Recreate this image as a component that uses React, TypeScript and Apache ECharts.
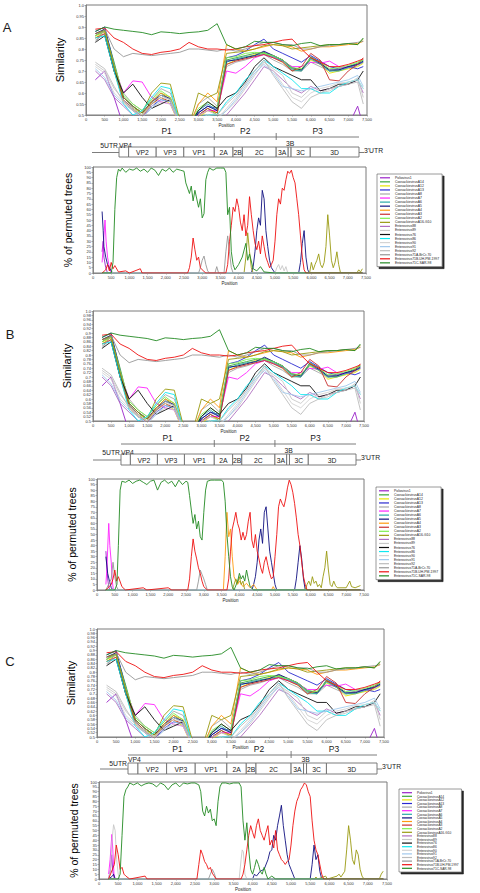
import React, { useEffect, useRef } from 'react';
import * as echarts from 'echarts';

// ---------- DATA ----------
const POS = [250, 500, 750, 1000, 1250, 1500, 1750, 2000, 2250, 2500, 2750, 3000, 3250, 3500, 3750, 4000, 4250, 4500, 4750, 5000, 5250, 5500, 5750, 6000, 6250, 6500, 6750, 7000, 7250, 7400];

const NAMES = [
  'Poliovirus1', 'CoxsackievirusA14', 'CoxsackievirusA12', 'CoxsackievirusA13', 'CoxsackievirusA8',
  'CoxsackievirusA7', 'CoxsackievirusA6', 'CoxsackievirusA5', 'CoxsackievirusA4', 'CoxsackievirusA3',
  'CoxsackievirusA2', 'CoxsackievirusA16-G10', 'Enterovirus88', 'Enterovirus89', 'Enterovirus76',
  'Enterovirus86', 'Enterovirus90', 'Enterovirus91', 'Enterovirus92', 'Enterovirus71A-BrCr-70',
  'Enterovirus71B-UH-PM-1997', 'Enterovirus71C-SAR-98',
];

const COLORS = [
  '#9a22c8', '#3aa63a', '#e6e600', '#2a2ad0', '#a8a8a8',
  '#ff22ff', '#2aa8a8', '#101080', '#ff9a10', '#c83030',
  '#7cf050', '#9a9a10', '#b070c0', '#c8c8c8', '#111111',
  '#10e8f0', '#d4d4d4', '#a0c8ec', '#bcbcbc', '#979797',
  '#ee1111', '#238a23',
];

const SIM_POLIO = [0.66, 0.70, 0.58, 0.45, 0.45, 0.45, 0.45, 0.45, 0.45, 0.45, 0.45, 0.45, 0.45, 0.45, 0.45, 0.45, 0.45, 0.45, 0.45, 0.45, 0.45, 0.45, 0.45, 0.45, 0.45, 0.45, 0.45, 0.45, 0.54, 0.45];
const SIM_CVA14 = [0.86, 0.89, 0.74, 0.58, 0.54, 0.50, 0.56, 0.60, 0.57, 0.46, 0.44, 0.50, 0.53, 0.50, 0.75, 0.76, 0.77, 0.78, 0.785, 0.77, 0.75, 0.71, 0.70, 0.765, 0.74, 0.70, 0.705, 0.72, 0.735, 0.75];
const SIM_CVA12 = [0.85, 0.88, 0.70, 0.56, 0.53, 0.51, 0.55, 0.58, 0.55, 0.45, 0.44, 0.49, 0.52, 0.51, 0.73, 0.75, 0.76, 0.775, 0.78, 0.76, 0.74, 0.70, 0.71, 0.75, 0.73, 0.69, 0.70, 0.71, 0.72, 0.735];
const SIM_CVA13 = [0.88, 0.90, 0.73, 0.57, 0.52, 0.49, 0.54, 0.57, 0.56, 0.46, 0.44, 0.51, 0.54, 0.53, 0.76, 0.77, 0.79, 0.82, 0.845, 0.80, 0.78, 0.76, 0.74, 0.77, 0.745, 0.72, 0.71, 0.72, 0.71, 0.72];
const SIM_CVA8 = [0.84, 0.87, 0.70, 0.60, 0.55, 0.52, 0.57, 0.62, 0.60, 0.48, 0.45, 0.55, 0.58, 0.54, 0.72, 0.74, 0.75, 0.765, 0.775, 0.75, 0.73, 0.70, 0.70, 0.74, 0.72, 0.70, 0.71, 0.715, 0.725, 0.74];
const SIM_CVA7 = [0.87, 0.88, 0.72, 0.60, 0.655, 0.65, 0.58, 0.56, 0.55, 0.46, 0.44, 0.50, 0.52, 0.52, 0.70, 0.69, 0.72, 0.76, 0.775, 0.76, 0.745, 0.72, 0.72, 0.74, 0.735, 0.745, 0.72, 0.715, 0.73, 0.74];
const SIM_CVA6 = [0.86, 0.885, 0.71, 0.57, 0.53, 0.50, 0.55, 0.59, 0.57, 0.46, 0.44, 0.52, 0.55, 0.52, 0.74, 0.755, 0.765, 0.77, 0.78, 0.765, 0.745, 0.705, 0.70, 0.755, 0.73, 0.70, 0.70, 0.715, 0.73, 0.74];
const SIM_CVA5 = [0.87, 0.89, 0.72, 0.58, 0.54, 0.51, 0.56, 0.59, 0.575, 0.47, 0.44, 0.51, 0.54, 0.52, 0.745, 0.75, 0.76, 0.77, 0.79, 0.77, 0.75, 0.715, 0.705, 0.76, 0.735, 0.705, 0.705, 0.72, 0.73, 0.745];
const SIM_CVA4 = [0.86, 0.88, 0.71, 0.56, 0.52, 0.50, 0.56, 0.60, 0.58, 0.47, 0.45, 0.55, 0.60, 0.56, 0.82, 0.80, 0.79, 0.80, 0.81, 0.82, 0.815, 0.81, 0.79, 0.80, 0.81, 0.81, 0.815, 0.82, 0.825, 0.835];
const SIM_CVA3 = [0.85, 0.87, 0.70, 0.57, 0.53, 0.49, 0.55, 0.58, 0.56, 0.46, 0.44, 0.50, 0.53, 0.51, 0.73, 0.745, 0.755, 0.765, 0.775, 0.76, 0.74, 0.70, 0.72, 0.78, 0.75, 0.66, 0.655, 0.70, 0.73, 0.76];
const SIM_CVA2 = [0.86, 0.88, 0.73, 0.59, 0.55, 0.52, 0.57, 0.61, 0.58, 0.47, 0.45, 0.53, 0.56, 0.53, 0.76, 0.765, 0.78, 0.785, 0.78, 0.77, 0.75, 0.715, 0.71, 0.76, 0.74, 0.71, 0.715, 0.725, 0.74, 0.75];
const SIM_CVA16 = [0.87, 0.885, 0.72, 0.58, 0.54, 0.51, 0.60, 0.645, 0.64, 0.48, 0.45, 0.60, 0.58, 0.60, 0.78, 0.785, 0.79, 0.80, 0.815, 0.82, 0.815, 0.80, 0.805, 0.81, 0.815, 0.82, 0.82, 0.825, 0.82, 0.845];
const SIM_EV88 = [0.70, 0.66, 0.58, 0.54, 0.50, 0.47, 0.45, 0.45, 0.45, 0.45, 0.45, 0.45, 0.45, 0.46, 0.50, 0.55, 0.60, 0.66, 0.72, 0.70, 0.66, 0.62, 0.60, 0.63, 0.61, 0.62, 0.63, 0.64, 0.66, 0.60];
const SIM_EV89 = [0.73, 0.70, 0.62, 0.57, 0.52, 0.49, 0.53, 0.56, 0.55, 0.46, 0.44, 0.48, 0.50, 0.49, 0.52, 0.56, 0.62, 0.68, 0.74, 0.71, 0.68, 0.60, 0.58, 0.62, 0.60, 0.61, 0.63, 0.64, 0.67, 0.58];
const SIM_EV76 = [0.83, 0.86, 0.70, 0.60, 0.64, 0.58, 0.53, 0.55, 0.57, 0.46, 0.45, 0.52, 0.56, 0.53, 0.58, 0.60, 0.65, 0.72, 0.76, 0.72, 0.70, 0.68, 0.66, 0.66, 0.61, 0.62, 0.64, 0.64, 0.66, 0.70];
const SIM_EV86 = [0.85, 0.86, 0.70, 0.55, 0.50, 0.52, 0.58, 0.63, 0.62, 0.46, 0.44, 0.49, 0.50, 0.50, 0.56, 0.60, 0.66, 0.70, 0.75, 0.72, 0.69, 0.66, 0.62, 0.62, 0.60, 0.60, 0.63, 0.65, 0.66, 0.62];
const SIM_EV90 = [0.72, 0.69, 0.60, 0.56, 0.53, 0.50, 0.54, 0.58, 0.57, 0.46, 0.44, 0.48, 0.50, 0.48, 0.53, 0.58, 0.64, 0.70, 0.74, 0.70, 0.64, 0.58, 0.56, 0.60, 0.62, 0.63, 0.645, 0.65, 0.66, 0.62];
const SIM_EV91 = [0.71, 0.67, 0.59, 0.55, 0.52, 0.49, 0.53, 0.57, 0.56, 0.46, 0.44, 0.48, 0.49, 0.48, 0.52, 0.57, 0.63, 0.69, 0.73, 0.69, 0.63, 0.62, 0.61, 0.62, 0.63, 0.64, 0.65, 0.66, 0.68, 0.63];
const SIM_EV92 = [0.74, 0.71, 0.63, 0.56, 0.52, 0.50, 0.55, 0.59, 0.57, 0.47, 0.45, 0.50, 0.52, 0.50, 0.55, 0.59, 0.64, 0.70, 0.75, 0.68, 0.62, 0.56, 0.53, 0.58, 0.60, 0.62, 0.63, 0.64, 0.65, 0.55];
const SIM_EV71A = [0.83, 0.89, 0.80, 0.765, 0.78, 0.775, 0.77, 0.775, 0.78, 0.785, 0.80, 0.80, 0.795, 0.79, 0.80, 0.79, 0.80, 0.815, 0.83, 0.83, 0.82, 0.82, 0.80, 0.80, 0.81, 0.815, 0.82, 0.825, 0.83, 0.835];
const SIM_EV71B = [0.89, 0.895, 0.85, 0.83, 0.80, 0.78, 0.775, 0.785, 0.79, 0.80, 0.83, 0.81, 0.80, 0.80, 0.795, 0.80, 0.81, 0.815, 0.82, 0.83, 0.84, 0.845, 0.80, 0.76, 0.74, 0.72, 0.72, 0.73, 0.745, 0.755];
const SIM_EV71C = [0.88, 0.90, 0.89, 0.885, 0.88, 0.875, 0.865, 0.878, 0.875, 0.87, 0.875, 0.878, 0.885, 0.915, 0.82, 0.80, 0.81, 0.835, 0.83, 0.83, 0.82, 0.815, 0.825, 0.83, 0.815, 0.82, 0.82, 0.825, 0.82, 0.85];

const SIM = [SIM_POLIO, SIM_CVA14, SIM_CVA12, SIM_CVA13, SIM_CVA8, SIM_CVA7, SIM_CVA6, SIM_CVA5, SIM_CVA4, SIM_CVA3, SIM_CVA2, SIM_CVA16, SIM_EV88, SIM_EV89, SIM_EV76, SIM_EV86, SIM_EV90, SIM_EV91, SIM_EV92, SIM_EV71A, SIM_EV71B, SIM_EV71C];

const BOOT_ZERO = [[250, 0], [7400, 0]];

// Panel A bootscan
const A_GREEN = [[250, 0], [500, 0], [550, 10], [600, 60], [650, 90], [700, 98], [750, 96], [800, 99], [900, 95], [1000, 98], [1100, 97], [1200, 99], [1300, 96], [1400, 98], [1500, 95], [1600, 99], [1700, 97], [1800, 92], [1900, 98], [2000, 96], [2100, 99], [2200, 95], [2300, 98], [2400, 97], [2500, 96], [2550, 85], [2650, 75], [2700, 82], [2750, 68], [2800, 78], [2900, 62], [2950, 70], [3000, 52], [3050, 56], [3100, 88], [3150, 95], [3200, 99], [3300, 97], [3400, 99], [3500, 99], [3600, 99], [3650, 95], [3700, 55], [3750, 62], [3800, 20], [3850, 8], [3900, 3], [4000, 8], [4100, 15], [4200, 28], [4250, 12], [4300, 18], [4400, 4], [4500, 2], [4600, 6], [4700, 1], [5000, 0], [7400, 0]];
const A_RED = [[250, 0], [350, 3], [400, 8], [450, 2], [500, 10], [550, 4], [600, 7], [700, 1], [900, 2], [1000, 0], [1300, 4], [1350, 0], [2600, 0], [2650, 5], [2700, 15], [2750, 33], [2800, 22], [2850, 12], [2900, 15], [2950, 5], [3000, 3], [3100, 0], [3650, 0], [3700, 8], [3750, 30], [3800, 45], [3850, 62], [3900, 58], [3950, 70], [4000, 62], [4050, 48], [4100, 40], [4150, 55], [4200, 35], [4250, 45], [4300, 72], [4350, 55], [4400, 40], [4450, 28], [4500, 22], [4550, 30], [4600, 18], [4650, 35], [4700, 25], [4750, 15], [4800, 10], [4850, 5], [4900, 8], [4950, 12], [5000, 30], [5050, 55], [5100, 70], [5150, 65], [5200, 80], [5250, 78], [5300, 88], [5350, 96], [5400, 94], [5450, 97], [5500, 90], [5550, 85], [5600, 70], [5650, 55], [5700, 35], [5750, 15], [5800, 3], [5850, 0], [7400, 0]];
const A_NAVY = [[250, 58], [280, 40], [300, 25], [350, 15], [400, 8], [450, 5], [500, 2], [550, 0], [4350, 0], [4400, 6], [4450, 20], [4500, 40], [4550, 52], [4600, 45], [4650, 78], [4700, 70], [4750, 40], [4800, 25], [4850, 12], [4900, 5], [5000, 0], [5650, 0], [5700, 10], [5750, 28], [5800, 40], [5850, 15], [5900, 3], [5950, 0], [7400, 0]];
const A_MAGENTA = [[250, 10], [280, 25], [300, 35], [330, 50], [360, 30], [400, 15], [450, 5], [500, 0], [7400, 0]];
const A_OLIVE = [[250, 0], [4150, 0], [4200, 15], [4250, 38], [4300, 20], [4350, 5], [4400, 0], [5950, 0], [6000, 10], [6050, 3], [6100, 8], [6150, 12], [6200, 18], [6250, 8], [6300, 5], [6350, 10], [6400, 25], [6450, 55], [6500, 35], [6550, 12], [6600, 5], [6650, 10], [6700, 20], [6750, 8], [6800, 0], [7250, 0], [7300, 3], [7350, 1], [7400, 4]];
const A_GREY = [[250, 0], [2900, 0], [2950, 5], [3000, 12], [3050, 16], [3100, 8], [3150, 2], [3200, 0], [3350, 0], [3400, 6], [3450, 0], [3600, 0], [3650, 20], [3700, 35], [3750, 20], [3800, 5], [3850, 0], [7400, 0]];
const A_POLIO = [[250, 20], [280, 30], [300, 15], [350, 5], [400, 0], [7400, 0]];
const A_LGREY = [[250, 0], [5000, 0], [5050, 5], [5100, 8], [5150, 3], [5200, 7], [5250, 2], [5300, 6], [5350, 0], [7400, 0]];

// Panel B bootscan
const B_GREEN = [[250, 0], [500, 0], [560, 5], [600, 40], [650, 90], [700, 98], [800, 97], [900, 99], [1000, 96], [1100, 98], [1200, 99], [1300, 97], [1400, 95], [1500, 98], [1600, 99], [1700, 90], [1800, 97], [1900, 99], [2000, 96], [2100, 98], [2200, 93], [2300, 99], [2400, 95], [2500, 98], [2550, 97], [2600, 85], [2650, 72], [2700, 60], [2750, 68], [2800, 55], [2850, 62], [2900, 48], [2950, 45], [3000, 70], [3050, 90], [3100, 98], [3200, 99], [3300, 99], [3400, 99], [3500, 99], [3550, 97], [3600, 80], [3650, 50], [3700, 30], [3750, 12], [3800, 3], [3850, 0], [3950, 8], [4000, 15], [4050, 10], [4100, 13], [4150, 8], [4200, 18], [4250, 10], [4300, 3], [4400, 0], [7400, 0]];
const B_RED = [[250, 0], [400, 5], [450, 10], [500, 18], [550, 8], [600, 12], [700, 3], [800, 0], [1300, 2], [1400, 0], [2000, 2], [2100, 0], [2550, 0], [2600, 10], [2650, 30], [2700, 46], [2750, 35], [2800, 28], [2850, 20], [2900, 15], [2950, 8], [3000, 3], [3100, 0], [3650, 0], [3700, 10], [3750, 35], [3800, 55], [3850, 62], [3900, 70], [3950, 60], [4000, 55], [4050, 45], [4100, 52], [4150, 45], [4200, 50], [4250, 62], [4300, 70], [4350, 45], [4400, 38], [4450, 50], [4500, 35], [4550, 28], [4600, 20], [4650, 15], [4700, 25], [4750, 30], [4800, 22], [4850, 15], [4900, 10], [4950, 12], [5000, 30], [5050, 50], [5100, 75], [5150, 82], [5200, 78], [5250, 75], [5300, 82], [5350, 92], [5400, 99], [5450, 95], [5500, 88], [5550, 78], [5600, 65], [5650, 50], [5700, 40], [5750, 25], [5800, 12], [5850, 5], [5900, 0], [7400, 0]];
const B_NAVY = [[250, 30], [300, 15], [350, 8], [400, 2], [450, 0], [4350, 0], [4400, 5], [4450, 12], [4500, 25], [4550, 45], [4600, 55], [4650, 42], [4700, 70], [4750, 75], [4800, 55], [4850, 35], [4900, 25], [4950, 15], [5000, 5], [5050, 0], [5550, 0], [5600, 10], [5650, 25], [5700, 40], [5750, 28], [5800, 10], [5850, 0], [7400, 0]];
const B_MAGENTA = [[250, 5], [280, 20], [310, 45], [330, 60], [360, 40], [400, 25], [430, 8], [460, 0], [7400, 0]];
const B_POLIO = [[250, 35], [270, 25], [300, 10], [330, 3], [360, 0], [7400, 0]];
const B_ORANGE = [[250, 0], [3550, 0], [3600, 30], [3650, 70], [3700, 48], [3750, 55], [3800, 30], [3850, 12], [3900, 8], [3950, 5], [4000, 8], [4100, 3], [4200, 6], [4300, 2], [4400, 5], [4500, 0], [4900, 0], [4950, 3], [5000, 0], [7400, 0]];
const B_OLIVE = [[250, 0], [3800, 0], [3850, 5], [3900, 10], [3950, 6], [4000, 12], [4050, 5], [4100, 8], [4150, 0], [5850, 0], [5900, 5], [5950, 8], [6000, 4], [6050, 12], [6100, 6], [6150, 8], [6200, 3], [6250, 5], [6300, 2], [6350, 12], [6400, 20], [6450, 35], [6500, 18], [6550, 5], [6600, 3], [6650, 8], [6700, 4], [6750, 2], [7000, 2], [7050, 5], [7100, 8], [7150, 3], [7250, 2], [7400, 4]];
const B_GREY = [[250, 0], [400, 10], [450, 25], [500, 12], [550, 3], [600, 0], [2800, 0], [2850, 8], [2900, 18], [2950, 14], [3000, 10], [3050, 5], [3100, 0], [7400, 0]];

// Panel C bootscan
const C_GREEN = [[250, 0], [500, 0], [550, 5], [600, 45], [650, 85], [700, 92], [750, 95], [800, 99], [900, 97], [1000, 99], [1100, 96], [1200, 98], [1300, 99], [1400, 98], [1500, 95], [1600, 99], [1700, 97], [1800, 92], [1900, 97], [2000, 99], [2100, 95], [2200, 99], [2300, 98], [2400, 99], [2500, 99], [2600, 97], [2650, 90], [2700, 70], [2750, 65], [2800, 75], [2850, 68], [2900, 72], [2950, 60], [3000, 62], [3050, 55], [3100, 80], [3150, 95], [3200, 99], [3300, 99], [3400, 98], [3500, 99], [3600, 99], [3650, 99], [3700, 95], [3750, 60], [3800, 40], [3850, 58], [3900, 30], [3950, 10], [4000, 5], [4050, 12], [4100, 20], [4150, 15], [4200, 8], [4250, 5], [4300, 12], [4350, 5], [4400, 0], [4500, 3], [4600, 0], [7400, 0]];
const C_RED = [[250, 0], [400, 15], [450, 35], [500, 25], [550, 10], [600, 12], [650, 5], [700, 3], [800, 0], [1200, 3], [1250, 0], [2550, 0], [2600, 15], [2650, 30], [2700, 25], [2750, 18], [2800, 15], [2850, 10], [2900, 12], [2950, 6], [3000, 3], [3050, 0], [3700, 0], [3750, 5], [3800, 15], [3850, 30], [3900, 45], [3950, 55], [4000, 48], [4050, 42], [4100, 55], [4150, 62], [4200, 50], [4250, 45], [4300, 40], [4350, 48], [4400, 55], [4450, 35], [4500, 40], [4550, 32], [4600, 50], [4650, 30], [4700, 25], [4750, 20], [4800, 18], [4850, 15], [4900, 18], [4950, 20], [5000, 35], [5050, 55], [5100, 70], [5150, 80], [5200, 85], [5250, 92], [5300, 95], [5350, 99], [5400, 97], [5450, 90], [5500, 85], [5550, 60], [5600, 40], [5650, 30], [5700, 25], [5750, 15], [5800, 5], [5850, 0], [7400, 0]];
const C_NAVY = [[250, 0], [350, 3], [380, 5], [420, 0], [4000, 0], [4050, 5], [4100, 3], [4200, 8], [4300, 10], [4400, 20], [4450, 28], [4500, 30], [4550, 45], [4600, 40], [4650, 55], [4700, 65], [4750, 76], [4800, 55], [4850, 40], [4900, 25], [4950, 15], [5000, 10], [5050, 5], [5100, 0], [5500, 0], [5550, 15], [5600, 35], [5650, 20], [5700, 25], [5750, 8], [5800, 0], [7400, 0]];
const C_MAGENTA = [[250, 5], [290, 20], [335, 46], [360, 30], [390, 5], [420, 0], [7400, 0]];
const C_LGREY = [[250, 0], [300, 10], [340, 40], [380, 56], [420, 50], [460, 20], [500, 5], [540, 0], [3650, 0], [3700, 20], [3730, 30], [3760, 28], [3800, 5], [3850, 0], [7400, 0]];
const C_OLIVE = [[250, 0], [5600, 0], [5650, 2], [5700, 0], [5900, 3], [5950, 0], [6200, 3], [6250, 5], [6300, 2], [6400, 8], [6450, 30], [6500, 55], [6550, 40], [6600, 20], [6650, 15], [6700, 30], [6750, 25], [6800, 10], [6850, 3], [6900, 0], [7300, 0], [7350, 5], [7400, 8]];
const C_POLIO = [[250, 0], [300, 10], [330, 25], [360, 8], [400, 0], [7400, 0]];
const C_GREY = [[250, 0], [2850, 0], [2900, 5], [2950, 10], [3000, 6], [3050, 0], [7400, 0]];

// series index -> data
const BOOT_A: Record<number, number[][]> = { 0: A_POLIO, 5: A_MAGENTA, 7: A_NAVY, 11: A_OLIVE, 13: A_LGREY, 19: A_GREY, 20: A_RED, 21: A_GREEN };
const BOOT_B: Record<number, number[][]> = { 0: B_POLIO, 5: B_MAGENTA, 7: B_NAVY, 8: B_ORANGE, 11: B_OLIVE, 19: B_GREY, 20: B_RED, 21: B_GREEN };
const BOOT_C: Record<number, number[][]> = { 0: C_POLIO, 5: C_MAGENTA, 7: C_NAVY, 11: C_OLIVE, 13: C_LGREY, 19: C_GREY, 20: C_RED, 21: C_GREEN };

// Genome map annotation (fractions of the map width)
const GENE_NAMES = ['VP4', 'VP2', 'VP3', 'VP1', '2A', '2B', '2C', '3A', '3B', '3C', '3D'];
const GENE_EDGES = [0, 0.04, 0.155, 0.27, 0.397, 0.475, 0.514, 0.655, 0.705, 0.717, 0.797, 1];
const P_NAMES = ['P1', 'P2', 'P3'];
const P_EDGES = [0, 0.397, 0.655, 1];

// ---------- LAYOUT ----------
const FONT = 'Liberation Sans, Arial, sans-serif';

const PANELS = [
  {
    letter: 'A', lx: 7, ly: 27,
    sim: { left: 86, top: 5, width: 281, height: 110, interval: 0.05, nameGap: 20 },
    boot: { left: 93, top: 167, width: 273, height: 106, nameGap: 14 },
    legend: { left: 377, top: 174, gap: 0.45, fs: 3.4 },
    genome: { x0: 119, x1: 359, boxTop: 147, boxH: 10, pLineY: 137, leftX: 92, vp4Dy: -1.5 },
    boot_data: BOOT_A,
  },
  {
    letter: 'B', lx: 10, ly: 334,
    sim: { left: 93, top: 311, width: 271, height: 110, interval: 0.02, nameGap: 15 },
    boot: { left: 97, top: 479, width: 267, height: 111, nameGap: 15 },
    legend: { left: 376, top: 487, gap: 0.45, fs: 3.4 },
    genome: { x0: 121, x1: 356, boxTop: 454, boxH: 11, pLineY: 444, leftX: 93, vp4Dy: -1.5 },
    boot_data: BOOT_B,
  },
  {
    letter: 'C', lx: 10, ly: 661,
    sim: { left: 97, top: 629, width: 287, height: 108, interval: 0.02, nameGap: 18 },
    boot: { left: 99, top: 782, width: 288, height: 101, nameGap: 16 },
    legend: { left: 399, top: 789, gap: 0.2, fs: 3.2 },
    genome: { x0: 128, x1: 377, boxTop: 763, boxH: 11, pLineY: 755, leftX: 100, vp4Dy: -4, utrDy: 0 },
    boot_data: BOOT_C,
  },
];

const fmtPos = (v: number) => String(v).replace(/\B(?=(\d{3})+(?!\d))/g, ',');
const fmtSim = (v: number) => (v === 1 ? '1.0' : String(+v.toFixed(2)));

function lineEl(x1: number, y1: number, x2: number, y2: number, color = '#6e6e6e', w = 0.9) {
  return { type: 'line', shape: { x1, y1, x2, y2 }, style: { stroke: color, lineWidth: w }, silent: true };
}
function textEl(text: string, x: number, y: number, fs: number, align = 'center', valign = 'middle') {
  return {
    type: 'text', x, y, silent: true,
    style: { text, fontSize: fs, fontFamily: FONT, fill: '#1a1a1a', textAlign: align, textVerticalAlign: valign },
  };
}

function genome(g: any) {
  const els: any[] = [];
  const W = g.x1 - g.x0;
  const X = (f: number) => g.x0 + f * W;
  const midY = g.boxTop + g.boxH / 2 + 0.5;
  // polyprotein line
  els.push(lineEl(g.x0, g.pLineY, g.x1, g.pLineY));
  for (let i = 1; i < P_EDGES.length - 1; i++) els.push(lineEl(X(P_EDGES[i]), g.pLineY - 4, X(P_EDGES[i]), g.pLineY + 3));
  P_NAMES.forEach((n, i) => els.push(textEl(n, (X(P_EDGES[i]) + X(P_EDGES[i + 1])) / 2, g.pLineY - 6, 8.5)));
  // UTR lines
  els.push(lineEl(g.leftX, midY, g.x0, midY));
  els.push(lineEl(g.x1, midY, g.x1 + 5, midY));
  // segments
  GENE_NAMES.forEach((n, i) => {
    const a = X(GENE_EDGES[i]);
    const b = X(GENE_EDGES[i + 1]);
    els.push({ type: 'rect', shape: { x: a, y: g.boxTop, width: b - a, height: g.boxH }, style: { fill: '#fff', stroke: '#6e6e6e', lineWidth: 0.9 }, silent: true });
    if (n === 'VP4') {
      els.push(textEl('VP4', a, g.boxTop + g.vp4Dy, 6.8, 'left', 'middle'));
    } else if (n === '3B') {
      els.push(textEl('3B', a + 2, g.boxTop - 4, 6.8));
    } else {
      els.push(textEl(n, (a + b) / 2, g.boxTop + g.boxH / 2 + 0.5, 6.8));
    }
  });
  els.push(textEl('5UTR', g.x0 - 1, g.boxTop + (g.utrDy !== undefined ? g.utrDy : g.vp4Dy), 6.8, 'right', 'middle'));
  els.push(textEl("3'UTR", g.x1 + 5, g.boxTop + 3, 6.8, 'left', 'middle'));
  return els;
}

function buildOption() {
  const grid: any[] = [];
  const xAxis: any[] = [];
  const yAxis: any[] = [];
  const series: any[] = [];
  const legend: any[] = [];
  const graphic: any[] = [];

  const axisCommon = {
    axisLine: { show: true, lineStyle: { color: '#7a7a7a', width: 0.8 } },
    axisTick: { show: true, length: 1.5, lineStyle: { color: '#7a7a7a', width: 0.6 } },
    splitLine: { show: false },
  };
  const xAx = (gi: number) => ({
    gridIndex: gi, type: 'value', min: 0, max: 7500, interval: 500,
    name: 'Position', nameLocation: 'middle', nameGap: 8,
    nameTextStyle: { fontSize: 4.5, color: '#222' },
    axisLabel: { fontSize: 4, color: '#333', margin: 2.5, formatter: fmtPos },
    ...axisCommon,
  });

  PANELS.forEach((p) => {
    // similarity
    const gs = grid.length;
    grid.push({ left: p.sim.left, top: p.sim.top, width: p.sim.width, height: p.sim.height, show: true, borderColor: '#7a7a7a', borderWidth: 1, backgroundColor: '#fff' });
    xAxis.push(xAx(gs));
    yAxis.push({
      gridIndex: gs, type: 'value', min: 0.5, max: 1, interval: p.sim.interval,
      name: 'Similarity', nameLocation: 'middle', nameGap: p.sim.nameGap,
      nameTextStyle: { fontSize: 11, color: '#000' },
      axisLabel: { fontSize: 4, color: '#333', margin: 2, formatter: fmtSim },
      ...axisCommon,
    });
    NAMES.forEach((n, i) => {
      series.push({
        type: 'line', name: n, xAxisIndex: gs, yAxisIndex: gs,
        data: POS.map((x, j) => [x, SIM[i][j]]),
        showSymbol: false, symbol: 'none', silent: true,
        color: COLORS[i],
        lineStyle: { width: 0.9, color: COLORS[i] },
      });
    });

    // bootscan
    const gb = grid.length;
    grid.push({ left: p.boot.left, top: p.boot.top, width: p.boot.width, height: p.boot.height, show: true, borderColor: '#7a7a7a', borderWidth: 1, backgroundColor: '#fff' });
    xAxis.push(xAx(gb));
    yAxis.push({
      gridIndex: gb, type: 'value', min: 0, max: 100, interval: 5,
      name: '% of permuted trees', nameLocation: 'middle', nameGap: p.boot.nameGap,
      nameTextStyle: { fontSize: 10.5, color: '#000' },
      axisLabel: { fontSize: 4, color: '#333', margin: 2 },
      ...axisCommon,
    });
    NAMES.forEach((n, i) => {
      series.push({
        type: 'line', name: n, xAxisIndex: gb, yAxisIndex: gb,
        data: p.boot_data[i] || BOOT_ZERO,
        showSymbol: false, symbol: 'none', silent: true,
        color: COLORS[i],
        lineStyle: { width: 0.9, color: COLORS[i] },
      });
    });

    legend.push({
      data: NAMES, orient: 'vertical', left: p.legend.left, top: p.legend.top,
      icon: 'rect', itemWidth: 10, itemHeight: 1.2, itemGap: p.legend.gap,
      selectedMode: false, padding: [2, 3, 2, 3],
      backgroundColor: '#fff', borderColor: '#555', borderWidth: 0.6,
      shadowColor: 'rgba(0,0,0,0.85)', shadowOffsetX: 2, shadowOffsetY: 2, shadowBlur: 1,
      textStyle: { fontSize: p.legend.fs, lineHeight: p.legend.fs + 0.2, color: '#222', fontFamily: FONT },
    });

    graphic.push(textEl(p.letter, p.lx, p.ly, 13));
    graphic.push(...genome(p.genome));
  });

  return {
    animation: false,
    backgroundColor: '#fff',
    textStyle: { fontFamily: FONT },
    grid, xAxis, yAxis, series, legend, graphic,
  };
}

export default function App() {
  const ref = useRef<HTMLDivElement>(null);
  useEffect(() => {
    if (!ref.current) return;
    const chart = echarts.init(ref.current, null, { renderer: 'svg' });
    chart.setOption(buildOption() as any);
    return () => chart.dispose();
  }, []);
  return <div ref={ref} style={{ position: 'absolute', left: 0, top: 0, width: 480, height: 893, background: '#fff' }} />;
}
